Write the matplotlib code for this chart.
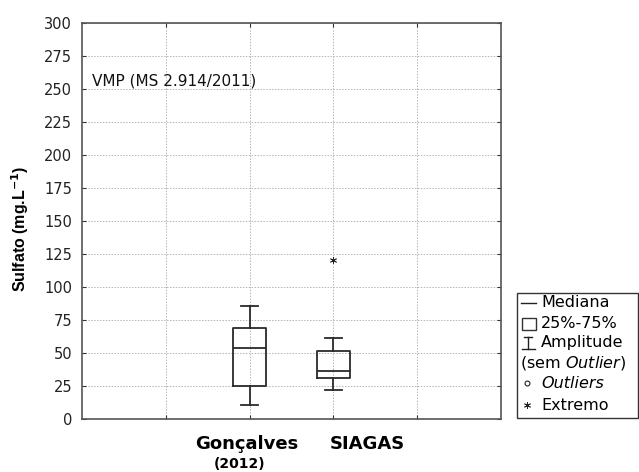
import matplotlib
matplotlib.use("Agg")
import matplotlib.pyplot as plt
from matplotlib.patches import Rectangle

plt.rcParams['font.family'] = ['DejaVu Sans']

# box statistics (mg/L)
groups = ["Gonçalves", "SIAGAS"]
sub_labels = ["(2012)", ""]
positions = [2, 3]
whisk_low = [10.6, 22.2]
q1 = [25.0, 31.0]
median = [53.5, 36.1]
q3 = [68.7, 51.3]
whisk_high = [85.6, 61.4]
extremes = [[], [120.5]]

yticks = list(range(0, 301, 25))

stats = []
for i in range(len(groups)):
    stats.append(dict(label=groups[i], whislo=whisk_low[i], q1=q1[i], med=median[i],
                      q3=q3[i], whishi=whisk_high[i], fliers=[]))

fig = plt.figure(figsize=(6.39, 4.72), dpi=100)
ax = fig.add_axes([82/639, 1 - 419/472, (501-82)/639, (419-23)/472])

lc = '#2a2a2a'
ax.bxp(stats, positions=positions, widths=0.4, showfliers=False,
       boxprops=dict(color=lc, linewidth=1.3),
       medianprops=dict(color=lc, linewidth=1.3),
       whiskerprops=dict(color=lc, linewidth=1.3),
       capprops=dict(color=lc, linewidth=1.3),
       capwidths=0.2)

for p, ex in zip(positions, extremes):
    if ex:
        ax.plot([p]*len(ex), ex, linestyle='none', marker=(6, 2, 0), markersize=5,
                color='#222222', markeredgewidth=0.6)

ax.set_xlim(0, 5)
ax.set_ylim(0, 300)
ax.set_yticks(yticks)
ax.set_yticklabels([str(v) for v in yticks], fontsize=10.5, color='#222222')
ax.set_xticks([1, 2, 3, 4])
ax.set_xticklabels(['', '', '', ''])
ax.tick_params(direction='in', length=3, color='#333333', top=True, right=True)
ax.tick_params(axis='y', pad=7)
ax.grid(True, color='#b5b5b5', linestyle=(0, (1.5, 1.5)), linewidth=0.7)
for s in ax.spines.values():
    s.set_color('#555555')
    s.set_linewidth(1.2)

ax.set_ylabel("Sulfato (mg.L$^{\\mathbf{-1}}$)", fontsize=11.5, fontweight='bold',
              family='Liberation Sans')
ax.yaxis.set_label_coords(-0.122, 0.48)

ax.text(0.12, 256, "VMP (MS 2.914/2011)", fontsize=11, color='#111111', va='center', ha='left')

# category labels below the axis
label_x = [1.97, 3.4]
sub_x = [1.885, 3.4]
for lx, sx, g, sl in zip(label_x, sub_x, groups, sub_labels):
    ax.text(lx, -19, g, fontsize=13, fontweight='bold', ha='center', va='center', clip_on=False)
    if sl:
        ax.text(sx, -34, sl, fontsize=10, fontweight='bold', ha='center', va='center', clip_on=False)

# legend box on the right
lg = fig.add_axes([0, 0, 1, 1], facecolor='none')
lg.set_xlim(0, 639)
lg.set_ylim(472, 0)
lg.axis('off')
lg.add_patch(Rectangle((517, 293), 121, 125, fill=False, edgecolor='#333333', linewidth=1.0))
rows = [302.7, 324, 343, 363, 383, 405]
lg.plot([521, 536], [rows[0], rows[0]], color='#222222', linewidth=1.0)
lg.add_patch(Rectangle((522, rows[1] - 6), 14, 12, fill=False, edgecolor='#333333', linewidth=1.0))
lg.plot([528, 528], [rows[2] - 6, rows[2] + 6], color='#222222', linewidth=1.0)
lg.plot([522, 535], [rows[2] + 6, rows[2] + 6], color='#222222', linewidth=1.0)
lg.plot([524, 532], [rows[2] - 6, rows[2] - 6], color='#222222', linewidth=1.0)
lg.plot([527], [rows[4]], marker='o', markersize=3.5, markerfacecolor='none',
        markeredgecolor='#222222', markeredgewidth=0.8)
lg.plot([527], [rows[5]], marker=(6, 2, 0), markersize=5, color='#222222', markeredgewidth=0.6)
fs = 11.5
lg.text(541, rows[0], "Mediana", fontsize=fs, va='center', ha='left')
lg.text(541, rows[1], "25%-75%", fontsize=fs, va='center', ha='left')
lg.text(541, rows[2], "Amplitude", fontsize=fs, va='center', ha='left')
lg.text(520, rows[3], "(sem $\\it{Outlier}$)", fontsize=fs, va='center', ha='left')
lg.text(541, rows[4], "Outliers", fontsize=fs, style='italic', va='center', ha='left')
lg.text(541, rows[5], "Extremo", fontsize=fs, va='center', ha='left')

fig.savefig("out.png", dpi=100)
